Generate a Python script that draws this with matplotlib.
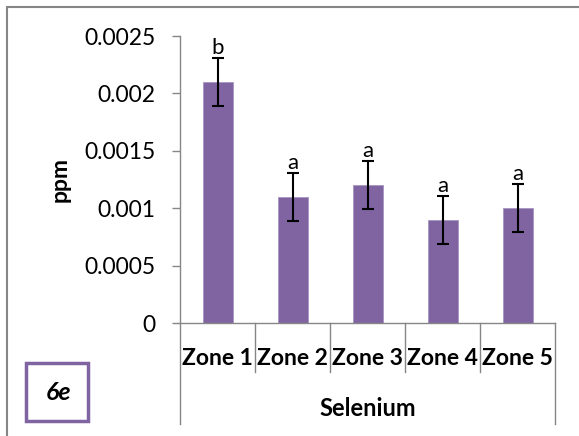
import matplotlib
matplotlib.use("Agg")
import matplotlib.pyplot as plt
from matplotlib.patches import Rectangle

zones = ["Zone 1", "Zone 2", "Zone 3", "Zone 4", "Zone 5"]
selenium_ppm = [0.0021, 0.0011, 0.0012, 0.0009, 0.0010]
selenium_err = [0.00021, 0.00021, 0.00021, 0.00021, 0.00021]
letters = ["b", "a", "a", "a", "a"]
y_ticks = [0, 0.0005, 0.001, 0.0015, 0.002, 0.0025]
y_tick_labels = ["0", "0.0005", "0.001", "0.0015", "0.002", "0.0025"]

plt.rcParams["font.family"] = ["Lato", "DejaVu Sans"]

W, H = 579, 436
fig = plt.figure(figsize=(W / 100, H / 100), dpi=100)

# plot area in pixel coordinates
x0, x1, y0, y1 = 180, 555, 323, 36
ax = fig.add_axes([x0 / W, 1 - y0 / H, (x1 - x0) / W, (y0 - y1) / H])

axis_grey = "#868686"
xs = list(range(len(zones)))
ax.bar(xs, selenium_ppm, width=0.4, color="#8064A2", edgecolor="#A795C0", linewidth=0.6, zorder=2)
ax.errorbar(xs, selenium_ppm, yerr=selenium_err, fmt="none", ecolor="black",
            elinewidth=1.5, capsize=4.5, capthick=1.5, zorder=3)

for x, v, e, lab in zip(xs, selenium_ppm, selenium_err, letters):
    ax.text(x, v + e, lab, ha="center", va="bottom", fontsize=16)

ax.set_xlim(-0.5, len(zones) - 0.5)
ax.set_ylim(0, 0.0025)
ax.set_yticks(y_ticks)
ax.set_yticklabels(y_tick_labels, fontsize=16.5)
ax.tick_params(axis="y", direction="out", length=5.5, width=1, color=axis_grey, pad=12)
ax.set_xticks([])
for side in ("top", "right"):
    ax.spines[side].set_visible(False)
for side in ("left", "bottom"):
    ax.spines[side].set_color(axis_grey)
    ax.spines[side].set_linewidth(1)
ax.set_ylabel("ppm", fontsize=16.5, fontweight="bold", labelpad=10)

# two-level category axis: zone dividers and the outer group bracket
inner = -49 / (y0 - y1)
outer = -101 / (y0 - y1)
n = len(zones)
for i in range(n + 1):
    xf = i / n
    depth = outer if i in (0, n) else inner
    ax.plot([xf, xf], [0, depth], transform=ax.transAxes, color=axis_grey,
            linewidth=1, clip_on=False)
for i, z in enumerate(zones):
    ax.text((i + 0.5) / n, -35 / (y0 - y1), z, transform=ax.transAxes,
            ha="center", va="center", fontsize=16.5, fontweight="bold")
ax.text(0.5, -85 / (y0 - y1), "Selenium", transform=ax.transAxes,
        ha="center", va="center", fontsize=17, fontweight="bold")

# chart frame and panel tag
fig.add_artist(Rectangle((7 / W, -0.1), 1.2, 1 - 7 / H + 0.1, transform=fig.transFigure,
                         fill=False, edgecolor=axis_grey, linewidth=1.5))
fig.add_artist(Rectangle((26 / W, 1 - 421 / H), 62 / W, 58 / H, transform=fig.transFigure,
                         fill=False, edgecolor="#8064A2", linewidth=2.5))
fig.text(58 / W, 1 - 392 / H, "6e", ha="center", va="center", fontsize=18,
         fontweight="bold", fontstyle="italic")

fig.savefig("out.png", dpi=100)
